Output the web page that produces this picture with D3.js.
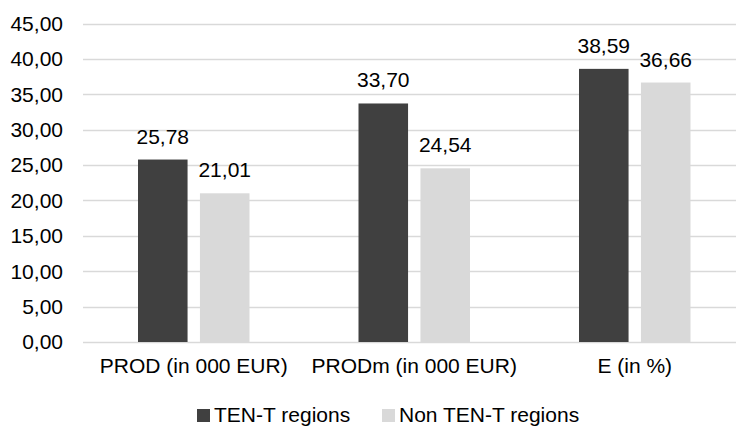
<!DOCTYPE html>
<html>
<head>
<meta charset="utf-8">
<script src="https://cdn.jsdelivr.net/npm/d3@7"></script>
<style>
  html, body { margin: 0; padding: 0; background: #fff; }
  svg { display: block; font-family: "Liberation Sans", Arial, sans-serif; }
</style>
</head>
<body>
<svg id="chart" width="736" height="426"></svg>
<script>
// Chart data
const categories = ["PROD (in 000 EUR)", "PRODm (in 000 EUR)", "E (in %)"];
const seriesNames = ["TEN-T regions", "Non TEN-T regions"];
const tenT = [25.78, 33.70, 38.59];
const nonTenT = [21.01, 24.54, 36.66];
const yTicks = [0, 5, 10, 15, 20, 25, 30, 35, 40, 45];

const colors = { "TEN-T regions": "#404040", "Non TEN-T regions": "#d9d9d9" };
const seriesValues = { "TEN-T regions": tenT, "Non TEN-T regions": nonTenT };

const fmt = v => v.toFixed(2).replace(".", ",");

const svg = d3.select("#chart");
const fontSize = 21;

const plot = { left: 83.5, right: 745, top: 23.5, bottom: 342 };

const y = d3.scaleLinear().domain([0, 45]).range([plot.bottom, plot.top]);
const x0 = d3.scaleBand().domain(categories).range([plot.left, plot.right]).padding(0);
const groupWidth = 111.5;
const x1 = d3.scaleBand().domain(seriesNames).range([0, groupWidth]).paddingInner(0.2);

// Gridlines
svg.append("g")
  .selectAll("line")
  .data(yTicks)
  .join("line")
  .attr("x1", 83)
  .attr("x2", 736)
  .attr("y1", d => Math.round(y(d)) + 0.5)
  .attr("y2", d => Math.round(y(d)) + 0.5)
  .attr("stroke", "#d9d9d9")
  .attr("stroke-width", 1.3);

// Y axis labels
svg.append("g")
  .selectAll("text")
  .data(yTicks)
  .join("text")
  .attr("x", 63)
  .attr("y", d => y(d))
  .attr("dy", "0.35em")
  .attr("text-anchor", "end")
  .attr("font-size", fontSize)
  .attr("fill", "#000")
  .text(d => fmt(d));

// Bars
const groups = svg.append("g")
  .selectAll("g")
  .data(categories)
  .join("g")
  .attr("transform", c => `translate(${x0(c) + (x0.bandwidth() - groupWidth) / 2},0)`);

groups.selectAll("rect")
  .data((c, i) => seriesNames.map(s => ({ s, v: seriesValues[s][i] })))
  .join("rect")
  .attr("x", d => x1(d.s))
  .attr("width", x1.bandwidth())
  .attr("y", d => y(d.v))
  .attr("height", d => y(0) - y(d.v))
  .attr("fill", d => colors[d.s]);

// Value labels
groups.selectAll("text")
  .data((c, i) => seriesNames.map(s => ({ s, v: seriesValues[s][i] })))
  .join("text")
  .attr("x", d => x1(d.s) + x1.bandwidth() / 2)
  .attr("y", d => y(d.v) - 16)
  .attr("text-anchor", "middle")
  .attr("font-size", fontSize)
  .attr("fill", "#000")
  .text(d => fmt(d.v));

// Category labels
svg.append("g")
  .selectAll("text")
  .data(categories)
  .join("text")
  .attr("x", c => x0(c) + x0.bandwidth() / 2)
  .attr("y", 373)
  .attr("text-anchor", "middle")
  .attr("font-size", fontSize)
  .attr("fill", "#000")
  .text(c => c);

// Legend
const legendItems = [{ s: "TEN-T regions", x: 197 }, { s: "Non TEN-T regions", x: 382 }];
const legend = svg.append("g")
  .selectAll("g")
  .data(legendItems)
  .join("g")
  .attr("transform", d => `translate(${d.x},0)`);
legend.append("rect")
  .attr("x", 0).attr("y", 409)
  .attr("width", 13).attr("height", 13)
  .attr("fill", d => colors[d.s]);
legend.append("text")
  .attr("x", 17).attr("y", 422)
  .attr("font-size", fontSize)
  .attr("fill", "#000")
  .text(d => d.s);
</script>
</body>
</html>
